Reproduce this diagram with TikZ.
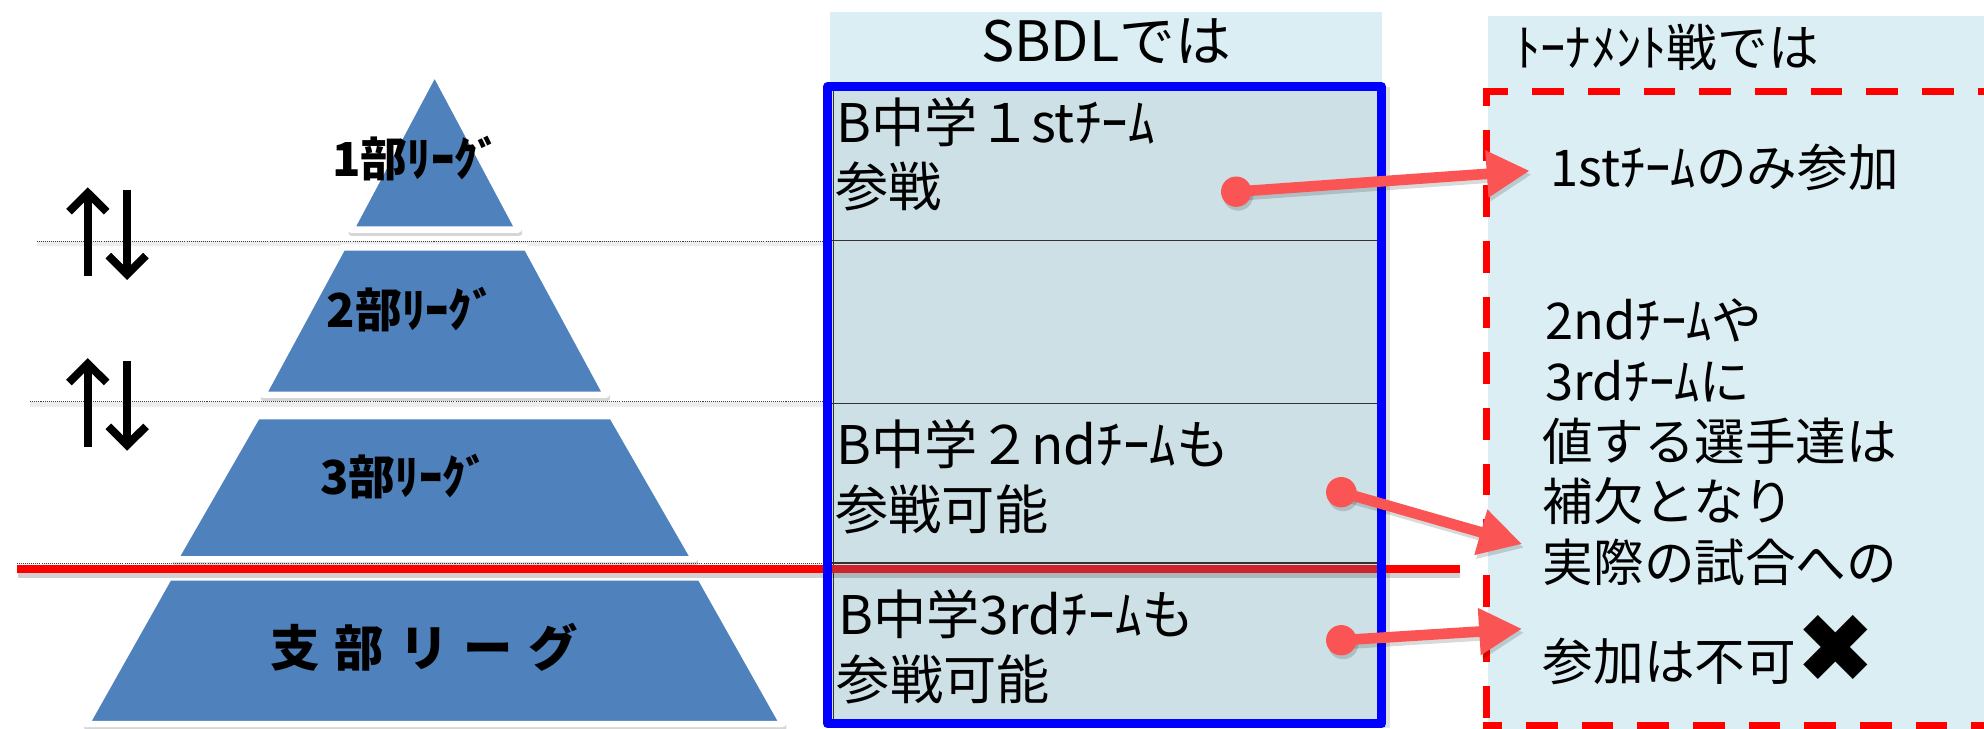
\documentclass[tikz,border=0pt]{standalone}
\usepackage{fontspec}
\setmainfont{Noto Sans CJK JP}
\newfontfamily\djv{DejaVu Sans}
\usetikzlibrary{arrows.meta}
\definecolor{pyrblue}{HTML}{4F81BD}
\definecolor{hdrfill}{HTML}{DAEEF3}
\definecolor{cellfill}{HTML}{CDE0E6}
\definecolor{arrred}{HTML}{FA5454}
\definecolor{boxblue}{HTML}{0000FF}
\definecolor{darkred}{HTML}{CF232B}
\newcommand\pyrpiece[4]{%
  \filldraw[black, opacity=0.16, line width=2.5pt, line join=round]
    ({343.5-#2+0.6},{#1+2.5}) -- ({343.5+#2+0.6},{#1+2.5}) -- ({343.5+#4+0.6},{#3+2.5}) -- ({343.5-#4+0.6},{#3+2.5}) -- cycle;
  \filldraw[fill=pyrblue, draw=white, line width=2.5pt, line join=round]
    ({343.5-#2},#1) -- ({343.5+#2},#1) -- ({343.5+#4},#3) -- ({343.5-#4},#3) -- cycle;}
\begin{document}
\begin{tikzpicture}[x=0.5pt,y=-0.5pt,
  txt/.style={inner sep=0pt, anchor=west, text height=17.6pt, text depth=2.4pt, font=\fontsize{20pt}{24pt}\selectfont},
  celltxt/.style={inner sep=0pt, anchor=west, text height=18.5pt, text depth=2.5pt, font=\fontsize{21pt}{25pt}\selectfont},
  hdrtxt/.style={inner sep=0pt, text height=19.4pt, text depth=2.6pt, font=\fontsize{22pt}{26pt}\selectfont},
  lbl/.style={inner sep=0pt, text height=16.3pt, text depth=2.3pt, font=\bfseries\fontsize{18.5pt}{20pt}\selectfont},
  biglbl/.style={inner sep=0pt, text height=17.2pt, text depth=2.3pt, font=\bfseries\fontsize{19.5pt}{22pt}\selectfont},
  dotline/.style={draw=black!75, line width=0.4pt, dash pattern=on 0.4pt off 0.4pt},
  dotshadow/.style={draw=black, opacity=0.07, line width=2pt},
  updn/.style={draw=black, line width=3.15pt, line join=miter},
  dsh/.style={draw=red, line width=2.65pt, dash pattern=on 12.5pt off 9.5pt},
  conn/.style={draw=arrred, line width=4.2pt, -{Triangle[length=17pt,width=17.5pt]}},
  connshadow/.style={draw=black, opacity=0.15, line width=4.2pt, -{Triangle[length=17pt,width=17.5pt]}},
  cellline/.style={draw=black!80, line width=0.45pt}
]
\useasboundingbox (0,0) rectangle (1568,576);
\begin{scope}
\clip (0,0) rectangle (1568,576);
% backgrounds
\fill[hdrfill] (1176,12.6) rectangle (1568,576);
\fill[hdrfill] (656,9.2) rectangle (1092,64.5);
% dotted lines
\draw[dotshadow] (29,192.5) -- (654,192.5);
\draw[dotline] (29,190.5) -- (654,190.5);
\draw[dotshadow] (24,320) -- (654,320);
\draw[dotline] (24,317.5) -- (654,317.5);
\draw[dotline] (13.6,445.5) -- (654,445.5);
% pyramid
\pyrpiece{57}{0}{181.5}{66.3}
\pyrpiece{195.6}{72.8}{312}{135.8}
\pyrpiece{329}{140.3}{442}{205.3}
\pyrpiece{456.4}{210}{572.3}{275.3}
% up/down arrows
\draw[updn] (69.4,154) -- (69.4,218);
\draw[updn] (54.5,167.3) -- (69.4,152.5) -- (84.3,167.3);
\draw[updn] (100.5,150) -- (100.5,216);
\draw[updn] (85.6,202) -- (100.5,216.8) -- (115.4,202);
\draw[updn] (69.4,289) -- (69.4,353);
\draw[updn] (54.5,302.3) -- (69.4,287.5) -- (84.3,302.3);
\draw[updn] (100.5,285) -- (100.5,351);
\draw[updn] (85.6,337) -- (100.5,351.8) -- (115.4,337);
% table
\draw[black, opacity=0.12, line width=3.5pt] (657,72) -- (1095,72) -- (1095,575);
\fill[cellfill] (656,66) rectangle (1090,572);
\draw[cellline] (657,190) -- (1089,190);
\draw[cellline] (657,319) -- (1089,319);
\draw[cellline] (657,445) -- (1089,445);
\draw[cellline] (658.5,66) -- (658.5,572);
\draw[cellline] (1088.5,66) -- (1088.5,572);
% red line
\draw[black, opacity=0.18, line width=3pt] (14,453.5) -- (1154,453.5);
\draw[red, line width=3.25pt] (13.6,450) -- (1154,450);
\draw[darkred, line width=3.25pt] (657,450) -- (1089,450);
% blue box
\draw[boxblue, line width=3.5pt, line join=round] (654,68.5) rectangle (1092,572);
% dashed box
\draw[dsh, dash phase=2.7pt] (1172.35,72.5) -- (1580,72.5);
\draw[dsh, dash phase=5.7pt] (1175,69.85) -- (1175,573.5);
\draw[dsh, dash phase=5.2pt] (1172.35,573.5) -- (1580,573.5);
% texts
\node[hdrtxt] (hdrA) at (874,31.5) {SBDLでは};
\node[txt] (hdrB) at (1197,37.5) {ﾄｰﾅﾒﾝﾄ戦では};
\node[celltxt] (c1a) at (661,97) {B中学１stﾁｰﾑ};
\node[celltxt] (c1b) at (660,147.5) {参戦};
\node[celltxt] (c3a) at (661,351.5) {B中学２ndﾁｰﾑも};
\node[celltxt] (c3b) at (660,402.5) {参戦可能};
\node[celltxt] (c4a) at (662,485.5) {B中学3rdﾁｰﾑも};
\node[celltxt] (c4b) at (661,537) {参戦可能};
\node[txt] (r1) at (1225,132.5) {1stﾁｰﾑのみ参加};
\node[txt] (r2) at (1221,253) {2ndﾁｰﾑや};
\node[txt] (r3) at (1221,301) {3rdﾁｰﾑに};
\node[txt] (r4) at (1219,348.5) {値する選手達は};
\node[txt] (r5) at (1219,396) {補欠となり};
\node[txt] (r6) at (1219,444) {実際の試合への};
\node[txt] (r7) at (1219,523) {参加は不可};
\node[inner sep=0pt, font=\djv\fontsize{38pt}{40pt}\selectfont] (xm) at (1451,513) {✖};
\node[lbl] (p1) at (329.5,125.5) {1部ﾘｰｸﾞ};
\node[lbl] (p2) at (325,244.5) {2部ﾘｰｸﾞ};
\node[lbl] (p3) at (320,377) {3部ﾘｰｸﾞ};
\node[biglbl] (p4) at (335,512) {\spaceskip=6pt\relax 支 部 リ ー グ};
% connectors
\coordinate (d1) at (977,151.5); \coordinate (t1) at (1209,135);
\coordinate (d2) at (1060,389);  \coordinate (t2) at (1203,430);
\coordinate (d3) at (1060,506);  \coordinate (t3) at (1203,497);
\foreach \a/\b in {d1/t1,d2/t2,d3/t3}{
  \begin{scope}[transform canvas={shift={(1.5,3)}}]
    \fill[black, opacity=0.15] (\a) circle (12);
    \draw[connshadow] (\a) -- (\b);
  \end{scope}
  \fill[arrred] (\a) circle (12);
  \draw[conn] (\a) -- (\b);
}
\end{scope}
\end{tikzpicture}
\end{document}
